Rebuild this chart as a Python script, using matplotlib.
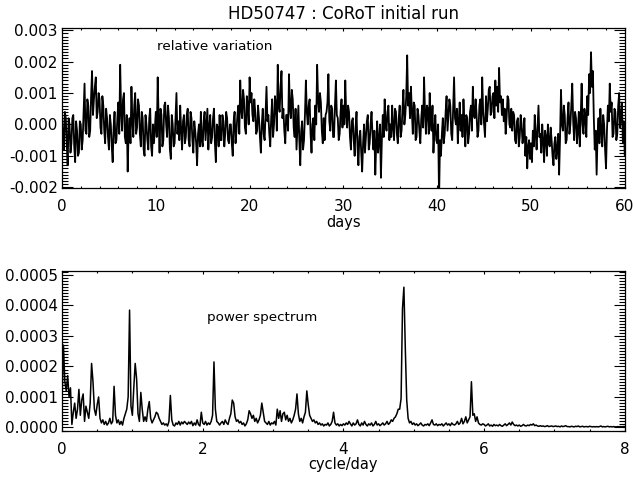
import numpy as np
import matplotlib
matplotlib.use("Agg")
import matplotlib.pyplot as plt
from matplotlib.ticker import MultipleLocator, FormatStrFormatter

plt.rcParams['font.family'] = ['DejaVu Sans']
plt.rcParams['axes.unicode_minus'] = False

# ---------------- data ----------------
title = "HD50747 : CoRoT initial run"
top_label = "relative variation"
bottom_label = "power spectrum"

# relative variation, 10 samples per day (units of 1e-4)
days_step = 0.1
rel_var_e4 = [
    3, -4, -8, 4, 2, -6, -13, 2, 0, -9,
    -6, 2, 3, -7, -12, 1, -2, -10, -9, 1,
    0, -8, -5, 4, 13, -2, -3, 8, 6, -4,
    -2, 9, 17, 3, 8, 12, 15, 2, 4, 10,
    8, -1, -3, 9, 6, -2, -6, 5, 2, -4,
    -8, 3, 0, -7, -12, -1, 4, -6, -5, 2,
    7, -3, 19, 4, -2, 8, 10, -4, -6, 3,
    -15, -2, 2, -6, 12, 1, -4, 6, 10, -3,
    -1, 8, 6, -3, -7, 4, 2, -8, -10, 3,
    0, -5, -8, 2, 5, -7, -10, 0, -6, -1,
    4, -4, 15, 2, -9, 5, 3, -7, -5, 6,
    7, 0, -4, 6, 2, -8, -11, 3, 0, -7,
    -6, 2, 10, -3, 1, -5, 6, -2, -8, 1,
    3, -6, -4, 3, 5, -5, -7, 4, 2, -5,
    -9, 1, -2, -6, -13, -3, 0, -7, 4, -5,
    -7, 1, 4, -5, 0, 5, -8, -1, 3, -6,
    -4, 2, 5, -6, -12, 0, -1, -7, 3, -5,
    -5, 3, 1, -7, -3, 4, 2, -5, -6, 0,
    0, -6, -10, 1, 4, -6, -2, 3, 6, -3,
    14, 5, 2, 11, 8, -1, -3, 9, 6, 0,
    15, 7, 10, 3, 1, 8, 4, -3, -2, 6,
    2, -4, -9, 0, 5, -3, -5, 4, 12, 1,
    3, -3, -7, 2, 8, -4, 0, 9, 6, -2,
    19, 6, 4, 12, 17, 2, 5, -2, -6, 3,
    3, -2, 16, 5, 2, 11, 8, -1, -4, 5,
    -8, -1, 6, -5, -13, -2, 1, -8, -5, 3,
    14, 4, 0, 6, 8, -3, -9, 0, 2, -5,
    6, 0, 19, 8, 4, 10, 7, -2, -6, 2,
    -5, 3, 4, 7, 16, 1, -2, 6, 5, -4,
    -4, 6, 14, 3, 2, -5, -3, 4, 8, -1,
    6, 0, 14, 3, -1, 6, 4, -4, -8, 1,
    2, -5, -10, -1, 4, -7, -13, -4, -2, -9,
    -15, -6, 0, -9, -4, 1, 3, -8, -6, 0,
    4, -3, -8, -2, -16, -6, 1, -9, -5, 0,
    -17, -5, 3, -4, 8, 0, -2, 4, 6, -5,
    0, -4, 6, -1, -5, 5, 4, -3, -6, 2,
    6, -4, -2, 5, 11, 0, 3, 9, 22, 6,
    10, 2, 12, 4, -3, 7, 6, -5, -4, 5,
    3, -2, -6, 2, 6, -1, 15, 4, -3, 6,
    5, -3, 10, 1, -2, 6, -9, -2, 3, -5,
    -6, 0, -24, -5, -10, -3, 2, -6, -3, 4,
    9, -2, 3, 8, 6, -3, -5, 5, 15, 2,
    0, 5, -6, 1, 7, -2, 3, -4, 8, 1,
    -7, 3, 2, -6, -3, 4, 6, -2, 12, 3,
    2, 8, 3, -4, -2, 6, 8, 0, 15, 4,
    0, -4, 9, 1, 5, 11, 12, 3, 4, 9,
    10, 2, 14, 6, 12, 4, 18, 7, 9, 3,
    8, 1, 5, -3, 2, 9, 8, 0, -1, 5,
    -2, 4, 3, -5, -6, 1, 2, -7, -4, 3,
    0, -6, -3, 2, -10, -4, -14, -7, -5, -11,
    -6, -12, -2, -7, 3, -3, -8, -1, 6, -4,
    -3, -9, 0, -5, -12, -2, -4, -10, 0, -6,
    -7, -1, -5, -10, -13, -6, -4, -11, -8, -3,
    -16, -4, 11, 0, -2, 6, 3, -6, -5, 2,
    7, -3, 0, 6, 13, 1, -5, 4, 2, -6,
    -2, 4, -7, 2, 13, 0, -3, 5, 2, -4,
    9, 3, 16, 10, 23, 12, 17, 2, -8, -2,
    -16, -3, 2, -6, 5, -2, -7, 3, 0, -8,
    -14, -2, 6, 1, 13, 4, 7, -4, -3, 5,
    4, -5, -3, 6, 10, -1, 2, 7, -6, 1,
    -10,
]

# power spectrum, step 0.02 cycle/day (units of 1e-6)
freq_step = 0.02
power_e6 = [
    90, 270, 150, 120, 170, 100, 130, 10, 50, 80, 30, 60, 125, 40, 90, 110, 20, 70, 50, 30,
    80, 210, 150, 60, 40, 75, 100, 30, 15, 25, 10, 20, 8, 15, 30, 12, 20, 135, 40, 15,
    25, 10, 20, 8, 30, 45, 60, 100, 385, 70, 40, 130, 210, 160, 45, 20, 115, 60, 20, 35,
    20, 60, 85, 30, 15, 25, 35, 50, 45, 30, 20, 10, 15, 8, 12, 5, 20, 105, 25, 8,
    5, 15, 10, 20, 8, 18, 12, 20, 15, 10, 18, 12, 20, 6, 15, 8, 25, 10, 5, 50,
    15, 10, 20, 8, 15, 10, 20, 40, 215, 60, 20, 15, 8, 15, 20, 10, 25, 15, 10, 30,
    45, 90, 80, 35, 20, 25, 15, 20, 10, 15, 5, 12, 25, 55, 45, 30, 40, 20, 30, 15,
    25, 40, 80, 50, 20, 15, 10, 20, 8, 15, 12, 20, 8, 60, 30, 55, 20, 45, 50, 25,
    40, 20, 30, 15, 25, 40, 60, 110, 45, 20, 30, 15, 35, 50, 120, 75, 40, 30, 20, 25,
    15, 20, 10, 15, 8, 12, 5, 10, 8, 15, 5, 10, 20, 50, 15, 8, 12, 5, 10, 6,
    12, 8, 15, 10, 20, 12, 5, 15, 8, 12, 25, 10, 5, 15, 8, 20, 10, 5, 12, 8,
    15, 5, 10, 20, 8, 12, 6, 10, 15, 8, 12, 20, 10, 15, 25, 20, 30, 35, 45, 60,
    60, 95, 390, 460, 260, 90, 30, 15, 20, 10, 15, 8, 12, 6, 10, 15, 8, 5, 10, 8,
    12, 6, 15, 25, 10, 8, 12, 6, 10, 8, 12, 5, 10, 15, 8, 12, 6, 15, 10, 8,
    12, 20, 10, 15, 30, 12, 20, 35, 15, 25, 35, 150, 40, 45, 20, 35, 15, 10, 8, 12,
    10, 5, 8, 12, 5, 8, 4, 10, 6, 8, 5, 10, 6, 4, 8, 12, 6, 10, 15, 8,
    18, 10, 6, 8, 5, 8, 4, 6, 10, 6, 5, 8, 6, 10, 8, 12, 6, 8, 5, 4,
    6, 4, 5, 3, 4, 6, 3, 4, 5, 3, 4, 5, 3, 4, 2, 5, 3, 4, 6, 3,
    3, 2, 4, 3, 2, 4, 3, 5, 2, 3, 4, 2, 3, 3, 2, 4, 3, 2, 3, 2,
    3, 2, 3, 5, 2, 3, 2, 3, 4, 2, 3, 2, 3, 2, 2, 3, 2, 3, 2, 3,
    3,
]

days = np.arange(len(rel_var_e4)) * days_step
rel_var = np.array(rel_var_e4) * 1e-4
freq = np.arange(len(power_e6)) * freq_step
power = np.array(power_e6) * 1e-6

# ---------------- figure ----------------
fig = plt.figure(figsize=(6.33, 4.78), dpi=100)
ax1 = fig.add_axes([0.098, 0.607, 0.889, 0.335])
ax2 = fig.add_axes([0.098, 0.098, 0.889, 0.335])

ax1.plot(days, rel_var, color='black', lw=1.3)
ax1.set_xlim(0, 60)
ax1.set_ylim(-0.00202, 0.00308)
ax1.xaxis.set_major_locator(MultipleLocator(10))
ax1.xaxis.set_minor_locator(MultipleLocator(2))
ax1.yaxis.set_major_locator(MultipleLocator(0.001))
ax1.yaxis.set_minor_locator(MultipleLocator(0.0001))
ax1.yaxis.set_major_formatter(FormatStrFormatter('%.3f'))
ax1.set_xlabel('days', fontsize=10.5, labelpad=1)
ax1.set_title(title, fontsize=12, pad=6)
ax1.text(10.1, 0.00248, top_label, fontsize=9.7, ha='left', va='center')

ax2.plot(freq, power, color='black', lw=1.1)
ax2.set_xlim(0, 8)
ax2.set_ylim(-0.000012, 0.000513)
ax2.xaxis.set_major_locator(MultipleLocator(2))
ax2.xaxis.set_minor_locator(MultipleLocator(0.5))
ax2.yaxis.set_major_locator(MultipleLocator(0.0001))
ax2.yaxis.set_minor_locator(MultipleLocator(0.00001))
ax2.yaxis.set_major_formatter(FormatStrFormatter('%.4f'))
ax2.set_xlabel('cycle/day', fontsize=10.5, labelpad=0)
ax2.text(2.06, 0.00036, bottom_label, fontsize=9.7, ha='left', va='center')

for ax in (ax1, ax2):
    for s in ax.spines.values():
        s.set_linewidth(0.9)
    ax.tick_params(axis='both', which='both', direction='in', top=True, right=True,
                   labelsize=11, width=0.8)
    ax.tick_params(axis='x', which='major', length=2.4, pad=8)
    ax.tick_params(axis='x', which='minor', length=1.3)
    ax.tick_params(axis='y', which='major', length=8, pad=3)
    ax.tick_params(axis='y', which='minor', length=4)

fig.savefig('out.png', dpi=100)
